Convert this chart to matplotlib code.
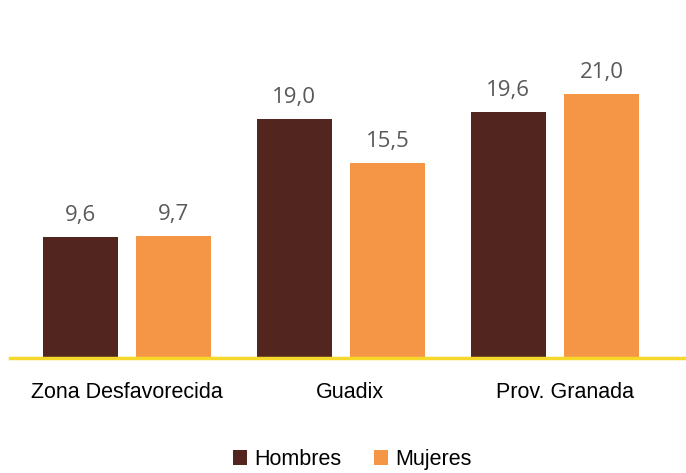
import matplotlib
matplotlib.use("Agg")
import matplotlib.pyplot as plt
import matplotlib.transforms as mtrans
import numpy as np

categories = ["Zona Desfavorecida", "Guadix", "Prov. Granada"]
hombres = [9.6, 19.0, 19.6]
mujeres = [9.7, 15.5, 21.0]
series_names = ["Hombres", "Mujeres"]

c_h = "#52261E"
c_m = "#F59646"

fig = plt.figure(figsize=(6.86, 4.73), dpi=100)
ax = fig.add_axes([10/686, 115/473, 676/686, 358/473])
x = np.arange(len(categories))
w = 0.35
off = 0.218
b1 = ax.bar(x - off, hombres, w, color=c_h, label=series_names[0])
b2 = ax.bar(x + off, mujeres, w, color=c_m, label=series_names[1])
ax.set_xlim(-0.547, 2.612)
ax.set_ylim(0, 358/12.57)
for bars, vals in ((b1, hombres), (b2, mujeres)):
    for r, v in zip(bars, vals):
        ax.annotate(f"{v:.1f}".replace(".", ","), (r.get_x() + r.get_width()/2, v),
                    xytext=(0, 8), textcoords="offset points", ha="center", va="bottom",
                    fontsize=16, color="#595959", family="Open Sans")
for s in ax.spines.values():
    s.set_visible(False)
ax.axhline(0, color="#F5D82A", lw=2.5, clip_on=False)
ax.set_yticks([])
ax.set_xticks(x)
ax.set_xticklabels(categories, fontsize=15.5, family="Liberation Sans", color="black")
ax.tick_params(axis="x", length=0, pad=17)
for lbl, dx in zip(ax.get_xticklabels(), [0, 9, 10]):
    lbl.set_transform(lbl.get_transform() + mtrans.ScaledTranslation(dx/100, 0, fig.dpi_scale_trans))
leg = fig.legend(loc="lower center", bbox_to_anchor=(0.514, -0.035), ncol=2, frameon=False,
                 prop={"family": "Liberation Sans", "size": 15.5}, handlelength=0.65,
                 handleheight=0.65, handletextpad=0.35, columnspacing=1.5)
fig.savefig("out.png", dpi=100)
